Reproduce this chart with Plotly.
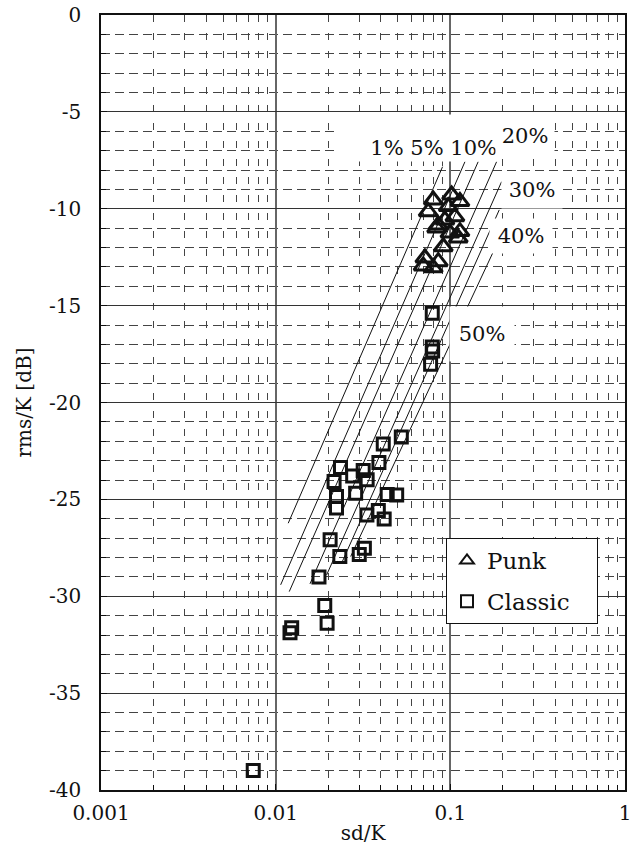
import plotly.graph_objects as go

# ---- data ----
punk_x = [0.0798, 0.1017, 0.1135, 0.0747, 0.0973, 0.1062, 0.0931, 0.0853, 0.0835,
          0.0995, 0.1135, 0.1110, 0.0911, 0.0715, 0.0699, 0.0853, 0.0798]
punk_y = [-9.55, -9.29, -9.63, -10.15, -9.89, -10.41, -10.58, -10.84, -10.99,
          -11.25, -11.18, -11.51, -11.96, -12.54, -12.95, -12.73, -13.05]

classic_x = [0.0788, 0.0788, 0.0792, 0.0771, 0.0524, 0.0413, 0.0390, 0.0235, 0.0317,
             0.0276, 0.0334, 0.0216, 0.0287, 0.0223, 0.0435, 0.0493, 0.0223, 0.0333,
             0.0387, 0.0418, 0.0205, 0.0322, 0.0301, 0.0233, 0.0177, 0.0191, 0.0197,
             0.01235, 0.01208, 0.00744]
classic_y = [-15.39, -17.13, -17.34, -18.03, -21.78, -22.14, -23.10, -23.36, -23.51,
             -23.79, -23.99, -24.08, -24.68, -24.85, -24.75, -24.78, -25.44, -25.80,
             -25.58, -26.01, -27.09, -27.52, -27.84, -27.95, -29.01, -30.48, -31.39,
             -31.62, -31.89, -38.99]

iso_labels = ["1%", "5%", "10%", "20%", "30%", "40%", "50%"]
iso_x0 = [0.01180, 0.01068, 0.01196, 0.01572, 0.01958, 0.02386, 0.02688]
iso_y0 = [-26.23, -29.41, -29.76, -29.36, -28.90, -28.29, -27.95]
iso_x1 = [0.0903, 0.1213, 0.1444, 0.1841, 0.1966, 0.1905, 0.1990]
iso_y1 = [-7.83, -7.57, -7.57, -7.57, -8.60, -10.06, -11.20]

x_tickvals = [0.001, 0.01, 0.1, 1]
x_ticktext = ["0.001", "0.01", "0.1", "1"]
y_tickvals = [0, -5, -10, -15, -20, -25, -30, -35, -40]
y_ticktext = ["0", "-5", "-10", "-15", "-20", "-25", "-30", "-35", "-40"]

FONT = "DejaVu Serif"
NB = "\u00a0"

fig = go.Figure()

for i in range(len(iso_labels)):
    fig.add_trace(go.Scatter(
        x=[iso_x0[i], iso_x1[i]], y=[iso_y0[i], iso_y1[i]],
        mode="lines", line=dict(color="#111", width=1),
        showlegend=False, hoverinfo="skip"))

fig.add_trace(go.Scatter(
    x=punk_x, y=punk_y, mode="markers", name="Punk", legendgroup="a",
    marker=dict(symbol="triangle-up-open", size=16, color="#111",
                line=dict(width=3, color="#111"))))
fig.add_trace(go.Scatter(
    x=classic_x, y=classic_y, mode="markers", name="Classic" + NB * 3, legendgroup="b",
    marker=dict(symbol="square-open", size=12, color="#111",
                line=dict(width=3, color="#111"))))

# pixel geometry of the plot area (page body margin removed below)
L, R, T, B = 101, 625, 15, 790
W, H = 639, 861

ann_font = dict(family=FONT, size=21, color="#111")
boxes = [
    # text, x(px center), y(px center), width, height, align, valign
    ("1% 5% 10%", 418, 138, 158, 44, "right", "bottom"),
    ("20%", 525, 136, 56, 36, "center", "middle"),
    ("30%", 532, 190, 58, 34, "center", "middle"),
    ("40%", 521, 236, 60, 32, "center", "middle"),
    ("50%", 482, 334, 62, 52, "center", "middle"),
]
for txt, px, py, w, h, al, va in boxes:
    fig.add_annotation(
        text=txt, xref="paper", yref="paper",
        x=(px - L) / (R - L), y=1 - (py - T) / (B - T),
        xanchor="center", yanchor="middle", showarrow=False,
        font=ann_font, bgcolor="white", width=w, height=h, align=al, valign=va)

axis_common = dict(
    showline=True, linecolor="#111", linewidth=1.5, mirror=True,
    ticks="inside", ticklen=6, tickcolor="#111", automargin=False,
    ticklabeloverflow="allow",
    tickfont=dict(family=FONT, size=20, color="#111"),
    showgrid=True, zeroline=False,
)

fig.update_xaxes(
    type="log", range=[-3, 0], tickvals=x_tickvals, ticktext=x_ticktext,
    ticklabelstandoff=4, gridcolor="#666", gridwidth=1.6,
    title=dict(text="sd/K", font=dict(family=FONT, size=20, color="#111"), standoff=2),
    minor=dict(dtick="D1", showgrid=True, gridcolor="#444", gridwidth=1,
               griddash="7px,11px", ticks="inside", ticklen=5, tickcolor="#111"),
    **axis_common)
fig.update_yaxes(
    range=[-40, 0], tickvals=y_tickvals, ticktext=y_ticktext,
    ticklabelstandoff=14, gridcolor="#333", gridwidth=1.1,
    title=dict(text="rms/K [dB]", font=dict(family=FONT, size=20, color="#111"), standoff=12),
    minor=dict(dtick=1, showgrid=True, gridcolor="#444", gridwidth=1,
               griddash="9px,5px", ticks="inside", ticklen=5, tickcolor="#111"),
    **axis_common)

fig.update_layout(
    width=W, height=H,
    margin=dict(l=L, r=W - R, t=T, b=H - B),
    paper_bgcolor="white", plot_bgcolor="white",
    font=dict(family=FONT, color="#111"),
    legend=dict(x=(446 - L) / (R - L), y=1 - (538 - T) / (B - T),
                xanchor="left", yanchor="top",
                bgcolor="white", bordercolor="#111", borderwidth=1,
                font=dict(family=FONT, size=23, color="#111"),
                tracegroupgap=8, itemsizing="constant"),
)

fig.write_html("out.html",
               config={"displayModeBar": False},
               post_script="document.body.style.margin='0';"
                           "document.body.style.overflow='hidden';")
